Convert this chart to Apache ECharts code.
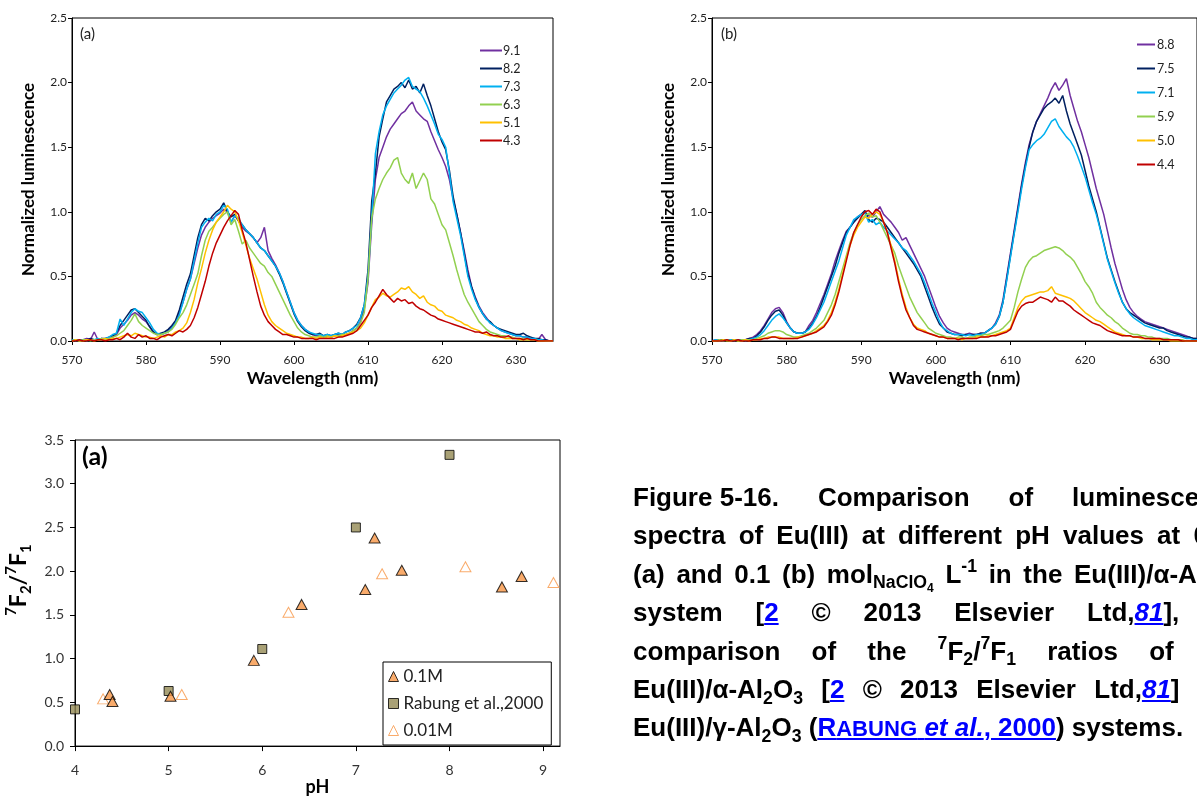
<!DOCTYPE html>
<html>
<head>
<meta charset="utf-8">
<script src="https://cdn.jsdelivr.net/npm/echarts@6/dist/echarts.min.js"></script>
<style>
html,body{margin:0;padding:0;width:1197px;height:797px;overflow:hidden;background:#fff;}
#chart{position:absolute;left:0;top:0;width:1197px;height:797px;}
#cap{position:absolute;left:633px;top:478px;width:611px;font-family:"Liberation Sans",Arial,sans-serif;font-weight:bold;font-size:26px;line-height:38.4px;color:#000;}
#cap .l{text-align:justify;text-align-last:justify;white-space:normal;}
#cap .last{text-align:left;text-align-last:left;}
#cap .nb{display:inline-block;}
#cap sub,#cap sup{font-size:68%;line-height:0;vertical-align:baseline;position:relative;}
#cap sub{top:0.32em;}
#cap sup{top:-0.62em;}
#cap a{color:#0000FF;text-decoration:underline;}
#cap .sc{font-size:85%;}
</style>
</head>
<body>
<div id="chart"></div>
<div id="cap">
<div class="l"><span class="nb">Figure 5-16.</span> Comparison of luminescence</div>
<div class="l">spectra of Eu(III) at different pH values at 0.01</div>
<div class="l">(a) and 0.1 (b) mol<sub>NaClO<sub>4</sub></sub> L<sup>-1</sup> in the Eu(III)/α-Al<sub>2</sub>O<sub>3</sub></div>
<div class="l">system [<a>2</a> © 2013 Elsevier Ltd,<a><i>81</i></a>], (c)</div>
<div class="l">comparison of the <sup>7</sup>F<sub>2</sub>/<sup>7</sup>F<sub>1</sub> ratios of the</div>
<div class="l">Eu(III)/α-Al<sub>2</sub>O<sub>3</sub> [<a>2</a> © 2013 Elsevier Ltd,<a><i>81</i></a>] and</div>
<div class="l last">Eu(III)/γ-Al<sub>2</sub>O<sub>3</sub> (<a>R<span class="sc">ABUNG</span> <i>et al.</i>, 2000</a>) systems.</div>
</div>
<script>
// ---------- DATA ----------
const wavelength = [
570,570.5,571,571.5,572,572.5,573,573.5,574,574.5,
575,575.5,576,576.5,577,577.5,578,578.5,579,579.5,
580,580.5,581,581.5,582,582.5,583,583.5,584,584.5,
585,585.5,586,586.5,587,587.5,588,588.5,589,589.5,
590,590.5,591,591.5,592,592.5,593,593.5,594,594.5,
595,595.5,596,596.5,597,597.5,598,598.5,599,599.5,
600,600.5,601,601.5,602,602.5,603,603.5,604,604.5,
605,605.5,606,606.5,607,607.5,608,608.5,609,609.5,
610,610.5,611,611.5,612,612.5,613,613.5,614,614.5,
615,615.5,616,616.5,617,617.5,618,618.5,619,619.5,
620,620.5,621,621.5,622,622.5,623,623.5,624,624.5,
625,625.5,626,626.5,627,627.5,628,628.5,629,629.5,
630,630.5,631,631.5,632,632.5,633,633.5,634,634.5,
635];

// Panel (a): pH labels and spectra
const phLabelsA = ['9.1','8.2','7.3','6.3','5.1','4.3'];
const specA_91 = [
0.00,0.01,0.00,0.01,0.02,0.01,0.07,0.01,0.02,0.01,
0.02,0.03,0.05,0.10,0.13,0.16,0.20,0.22,0.20,0.17,
0.15,0.11,0.07,0.05,0.05,0.06,0.08,0.11,0.15,0.22,
0.30,0.40,0.48,0.60,0.72,0.82,0.88,0.92,0.95,0.97,
0.99,1.02,1.00,0.92,0.97,0.93,0.88,0.85,0.83,0.80,
0.76,0.80,0.88,0.70,0.64,0.59,0.53,0.46,0.38,0.30,
0.22,0.16,0.12,0.09,0.07,0.05,0.04,0.04,0.03,0.04,
0.03,0.04,0.05,0.04,0.05,0.06,0.08,0.10,0.15,0.25,
0.45,0.90,1.25,1.42,1.50,1.58,1.64,1.68,1.72,1.76,
1.78,1.82,1.85,1.78,1.75,1.72,1.70,1.62,1.55,1.48,
1.42,1.35,1.25,1.10,0.98,0.84,0.70,0.55,0.42,0.34,
0.27,0.22,0.18,0.14,0.12,0.10,0.08,0.07,0.06,0.05,
0.04,0.04,0.03,0.03,0.02,0.02,0.01,0.05,0.01,0.00,
0.00];
const specA_82 = [
0.00,0.01,0.01,0.00,0.01,0.02,0.01,0.01,0.02,0.02,
0.03,0.04,0.06,0.12,0.16,0.20,0.24,0.25,0.22,0.19,
0.16,0.11,0.07,0.05,0.06,0.07,0.09,0.12,0.16,0.24,
0.34,0.44,0.52,0.66,0.80,0.90,0.95,0.93,0.97,1.00,
1.02,1.07,1.00,0.96,0.98,0.93,0.90,0.86,0.83,0.80,
0.76,0.72,0.70,0.66,0.62,0.58,0.52,0.45,0.37,0.29,
0.21,0.15,0.11,0.08,0.06,0.05,0.05,0.06,0.04,0.05,
0.04,0.05,0.06,0.05,0.07,0.08,0.10,0.13,0.18,0.28,
0.55,1.08,1.30,1.58,1.72,1.85,1.90,1.95,1.97,2.00,
1.96,2.02,1.95,1.97,1.92,1.99,1.90,1.82,1.72,1.62,
1.54,1.48,1.32,1.12,0.98,0.84,0.68,0.52,0.42,0.33,
0.26,0.21,0.17,0.15,0.12,0.10,0.09,0.08,0.07,0.06,
0.05,0.05,0.06,0.04,0.03,0.02,0.02,0.01,0.01,0.00,
0.00];
const specA_73 = [
0.01,0.00,0.01,0.01,0.00,0.01,0.01,0.02,0.01,0.02,
0.03,0.05,0.06,0.17,0.12,0.17,0.22,0.25,0.23,0.22,
0.18,0.14,0.09,0.06,0.05,0.06,0.07,0.10,0.14,0.20,
0.30,0.40,0.48,0.62,0.76,0.88,0.92,0.95,0.93,0.98,
1.00,1.05,1.02,0.92,0.97,0.95,0.90,0.86,0.83,0.80,
0.76,0.72,0.70,0.66,0.62,0.58,0.53,0.46,0.38,0.30,
0.22,0.16,0.12,0.09,0.07,0.06,0.05,0.05,0.04,0.05,
0.04,0.05,0.06,0.05,0.07,0.08,0.10,0.12,0.18,0.28,
0.50,0.95,1.45,1.62,1.75,1.82,1.87,1.92,1.95,1.98,
2.02,2.04,1.97,1.95,1.93,1.88,1.82,1.75,1.68,1.60,
1.56,1.50,1.30,1.08,0.95,0.82,0.66,0.50,0.40,0.32,
0.26,0.21,0.17,0.14,0.12,0.10,0.08,0.07,0.06,0.05,
0.04,0.04,0.03,0.03,0.02,0.02,0.01,0.01,0.00,0.00,
0.00];
const specA_63 = [
0.00,0.01,0.00,0.01,0.01,0.00,0.01,0.01,0.02,0.01,
0.02,0.03,0.04,0.06,0.08,0.12,0.16,0.21,0.15,0.12,
0.10,0.08,0.06,0.05,0.05,0.06,0.07,0.09,0.13,0.18,
0.22,0.28,0.36,0.44,0.52,0.66,0.78,0.85,0.88,0.92,
0.95,0.98,1.00,0.90,0.94,0.85,0.75,0.78,0.72,0.68,
0.64,0.60,0.58,0.53,0.50,0.44,0.38,0.32,0.26,0.20,
0.15,0.10,0.07,0.05,0.04,0.03,0.03,0.04,0.03,0.04,
0.03,0.04,0.04,0.05,0.05,0.06,0.08,0.10,0.14,0.22,
0.48,0.95,1.10,1.18,1.25,1.30,1.34,1.40,1.42,1.30,
1.25,1.22,1.30,1.18,1.24,1.30,1.25,1.10,1.06,0.98,
0.90,0.86,0.76,0.66,0.55,0.45,0.36,0.30,0.25,0.20,
0.15,0.12,0.09,0.07,0.06,0.05,0.04,0.04,0.03,0.03,
0.02,0.02,0.02,0.01,0.01,0.01,0.00,0.00,0.00,0.00,
0.00];
const specA_51 = [
0.00,0.01,0.00,0.00,0.01,0.01,0.00,0.01,0.01,0.02,
0.01,0.02,0.02,0.03,0.04,0.05,0.04,0.06,0.05,0.04,
0.03,0.03,0.02,0.03,0.04,0.03,0.05,0.05,0.07,0.08,
0.10,0.14,0.22,0.32,0.45,0.56,0.68,0.78,0.86,0.92,
0.96,1.00,1.05,1.02,1.00,0.93,0.84,0.74,0.64,0.56,
0.48,0.38,0.28,0.20,0.15,0.12,0.10,0.08,0.06,0.05,
0.04,0.03,0.03,0.02,0.02,0.03,0.02,0.03,0.02,0.03,
0.03,0.04,0.03,0.04,0.05,0.06,0.07,0.08,0.10,0.14,
0.20,0.26,0.32,0.34,0.37,0.35,0.34,0.36,0.38,0.41,
0.40,0.42,0.38,0.36,0.33,0.35,0.30,0.28,0.27,0.24,
0.23,0.20,0.19,0.18,0.16,0.15,0.13,0.12,0.10,0.09,
0.08,0.06,0.05,0.04,0.04,0.03,0.03,0.02,0.02,0.02,
0.02,0.01,0.01,0.01,0.01,0.01,0.00,0.00,0.00,0.00,
0.00];
const specA_43 = [
0.00,0.00,0.01,0.00,0.00,0.01,0.00,0.01,0.01,0.00,
0.01,0.01,0.02,0.01,0.03,0.06,0.03,0.02,0.05,0.03,
0.04,0.02,0.02,0.01,0.03,0.04,0.05,0.04,0.06,0.08,
0.07,0.09,0.12,0.18,0.26,0.36,0.46,0.58,0.68,0.76,
0.82,0.88,0.93,0.97,1.01,0.98,0.86,0.76,0.63,0.50,
0.38,0.27,0.20,0.15,0.12,0.09,0.07,0.05,0.05,0.04,
0.03,0.03,0.02,0.02,0.02,0.02,0.01,0.02,0.02,0.02,
0.02,0.02,0.03,0.03,0.04,0.05,0.06,0.08,0.12,0.16,
0.20,0.26,0.30,0.35,0.40,0.36,0.33,0.30,0.33,0.31,
0.32,0.29,0.30,0.27,0.25,0.24,0.22,0.20,0.19,0.17,
0.16,0.15,0.14,0.13,0.12,0.11,0.10,0.09,0.08,0.07,
0.07,0.06,0.07,0.05,0.04,0.04,0.03,0.03,0.04,0.02,
0.02,0.02,0.01,0.02,0.01,0.01,0.00,0.00,0.00,0.00,
0.00];

// Panel (b): pH labels and spectra
const phLabelsB = ['8.8','7.5','7.1','5.9','5.0','4.4'];
const specB_88 = [
0.00,0.01,0.00,0.01,0.01,0.00,0.01,0.01,0.00,0.01,
0.02,0.03,0.05,0.08,0.12,0.17,0.22,0.25,0.26,0.22,
0.15,0.10,0.07,0.06,0.06,0.07,0.12,0.16,0.22,0.29,
0.36,0.44,0.52,0.62,0.70,0.78,0.85,0.88,0.92,0.96,
0.98,0.99,0.97,0.96,1.00,1.04,0.98,0.95,0.92,0.88,
0.84,0.78,0.80,0.74,0.68,0.62,0.56,0.50,0.42,0.34,
0.26,0.19,0.14,0.10,0.08,0.07,0.06,0.05,0.05,0.06,
0.05,0.05,0.06,0.06,0.08,0.10,0.14,0.20,0.32,0.50,
0.68,0.86,1.04,1.22,1.38,1.52,1.62,1.70,1.76,1.82,
1.88,1.95,2.00,1.94,1.98,2.03,1.90,1.80,1.70,1.62,
1.52,1.42,1.30,1.18,1.08,0.98,0.85,0.72,0.60,0.50,
0.40,0.32,0.26,0.22,0.19,0.17,0.15,0.14,0.13,0.12,
0.11,0.10,0.09,0.08,0.07,0.06,0.05,0.04,0.03,0.02,
0.02];
const specB_75 = [
0.00,0.00,0.01,0.01,0.00,0.01,0.01,0.00,0.01,0.01,
0.02,0.02,0.04,0.07,0.11,0.16,0.20,0.23,0.24,0.20,
0.14,0.10,0.07,0.06,0.06,0.07,0.10,0.14,0.19,0.26,
0.34,0.42,0.50,0.58,0.68,0.76,0.84,0.88,0.92,0.95,
0.98,1.01,0.94,0.92,0.95,0.94,0.92,0.88,0.84,0.80,
0.76,0.72,0.68,0.64,0.60,0.55,0.50,0.42,0.34,0.26,
0.19,0.13,0.10,0.07,0.06,0.05,0.05,0.04,0.05,0.05,
0.05,0.05,0.06,0.06,0.08,0.10,0.13,0.19,0.30,0.48,
0.66,0.84,1.02,1.20,1.36,1.50,1.62,1.70,1.75,1.80,
1.83,1.85,1.88,1.84,1.90,1.78,1.68,1.60,1.52,1.44,
1.32,1.20,1.10,1.00,0.88,0.76,0.64,0.55,0.46,0.38,
0.30,0.25,0.22,0.20,0.18,0.16,0.14,0.13,0.12,0.11,
0.10,0.10,0.08,0.07,0.06,0.05,0.04,0.03,0.03,0.02,
0.02];
const specB_71 = [
0.00,0.01,0.00,0.00,0.01,0.01,0.00,0.01,0.01,0.00,
0.01,0.02,0.03,0.05,0.08,0.12,0.16,0.19,0.21,0.18,
0.14,0.10,0.07,0.06,0.06,0.07,0.09,0.13,0.18,0.24,
0.30,0.38,0.46,0.54,0.62,0.72,0.82,0.88,0.94,0.96,
0.98,0.99,0.92,0.94,0.90,0.92,0.88,0.85,0.82,0.79,
0.76,0.72,0.70,0.66,0.62,0.57,0.52,0.45,0.37,0.29,
0.22,0.15,0.10,0.08,0.06,0.05,0.05,0.05,0.04,0.05,
0.04,0.05,0.05,0.06,0.08,0.10,0.13,0.19,0.30,0.47,
0.65,0.83,1.00,1.18,1.34,1.48,1.52,1.55,1.57,1.60,
1.65,1.70,1.72,1.66,1.62,1.58,1.55,1.50,1.43,1.35,
1.27,1.17,1.07,0.98,0.87,0.75,0.63,0.54,0.45,0.37,
0.30,0.25,0.21,0.18,0.16,0.14,0.12,0.11,0.10,0.09,
0.08,0.07,0.06,0.05,0.04,0.04,0.03,0.02,0.02,0.01,
0.01];
const specB_59 = [
0.00,0.00,0.01,0.00,0.01,0.00,0.01,0.00,0.01,0.01,
0.01,0.01,0.02,0.03,0.04,0.06,0.07,0.08,0.08,0.07,
0.05,0.04,0.03,0.03,0.04,0.05,0.06,0.08,0.10,0.13,
0.16,0.22,0.28,0.36,0.46,0.56,0.66,0.76,0.84,0.90,
0.94,0.97,0.99,0.96,0.97,0.92,0.86,0.80,0.74,0.68,
0.58,0.50,0.42,0.34,0.28,0.22,0.18,0.14,0.10,0.08,
0.06,0.05,0.04,0.03,0.03,0.02,0.03,0.03,0.02,0.03,
0.03,0.04,0.04,0.05,0.05,0.06,0.07,0.08,0.10,0.13,
0.16,0.26,0.38,0.48,0.57,0.62,0.65,0.66,0.68,0.70,
0.71,0.72,0.73,0.72,0.70,0.67,0.65,0.62,0.57,0.52,
0.46,0.42,0.37,0.30,0.26,0.23,0.20,0.18,0.15,0.13,
0.10,0.08,0.06,0.05,0.05,0.04,0.04,0.03,0.03,0.02,
0.02,0.02,0.02,0.01,0.01,0.01,0.01,0.00,0.00,0.00,
0.00];
const specB_50 = [
0.00,0.00,0.00,0.01,0.00,0.00,0.01,0.00,0.00,0.01,
0.00,0.01,0.01,0.02,0.02,0.03,0.03,0.03,0.03,0.02,
0.02,0.02,0.02,0.03,0.03,0.04,0.05,0.06,0.08,0.10,
0.12,0.16,0.22,0.30,0.40,0.52,0.64,0.74,0.82,0.88,
0.92,0.96,0.95,0.98,1.00,0.98,0.92,0.84,0.74,0.62,
0.48,0.36,0.26,0.18,0.13,0.10,0.09,0.08,0.06,0.05,
0.04,0.03,0.03,0.02,0.02,0.02,0.02,0.01,0.02,0.02,
0.02,0.03,0.03,0.03,0.04,0.04,0.05,0.06,0.07,0.08,
0.10,0.18,0.26,0.31,0.34,0.35,0.36,0.37,0.38,0.38,
0.39,0.42,0.37,0.36,0.35,0.34,0.33,0.31,0.28,0.25,
0.22,0.20,0.18,0.16,0.15,0.13,0.11,0.09,0.07,0.06,
0.05,0.04,0.04,0.03,0.03,0.02,0.02,0.02,0.01,0.01,
0.01,0.01,0.01,0.00,0.00,0.00,0.00,0.00,0.00,0.00,
0.00];
const specB_44 = [
0.00,0.00,0.00,0.00,0.01,0.00,0.00,0.01,0.00,0.00,
0.00,0.01,0.01,0.01,0.02,0.02,0.03,0.03,0.02,0.02,
0.02,0.02,0.02,0.02,0.03,0.04,0.05,0.06,0.07,0.09,
0.11,0.15,0.20,0.28,0.38,0.50,0.62,0.74,0.84,0.90,
0.96,1.00,1.01,0.98,1.02,1.00,0.92,0.84,0.72,0.60,
0.46,0.34,0.24,0.18,0.12,0.09,0.08,0.07,0.06,0.05,
0.04,0.03,0.03,0.02,0.02,0.02,0.01,0.02,0.02,0.02,
0.02,0.02,0.03,0.03,0.03,0.04,0.04,0.05,0.06,0.07,
0.09,0.16,0.23,0.27,0.29,0.30,0.30,0.32,0.34,0.33,
0.32,0.30,0.34,0.31,0.31,0.29,0.27,0.24,0.22,0.20,
0.18,0.16,0.14,0.13,0.12,0.10,0.08,0.07,0.06,0.05,
0.04,0.04,0.04,0.03,0.03,0.03,0.02,0.02,0.02,0.02,
0.02,0.01,0.01,0.01,0.01,0.01,0.00,0.00,0.00,0.00,
0.00];

// Panel (c): 7F2/7F1 ratio vs pH
const ph_01M   = [4.37,4.40,5.02,5.91,6.42,7.10,7.20,7.49,8.56,8.77];
const ratio_01M= [0.59,0.51,0.57,0.98,1.62,1.79,2.38,2.01,1.82,1.94];
const ph_Rab   = [4.00,5.00,6.00,7.00,8.00];
const ratio_Rab= [0.42,0.63,1.11,2.50,3.33];
const ph_001M  = [4.30,5.14,6.28,7.28,8.17,9.11];
const ratio_001M=[0.54,0.59,1.53,1.97,2.05,1.87];

// ---------- CHART ----------
const colors = ['#7030A0','#002060','#00B0F0','#92D050','#FFC000','#C00000'];
const specSetA = [specA_91,specA_82,specA_73,specA_63,specA_51,specA_43];
const specSetB = [specB_88,specB_75,specB_71,specB_59,specB_50,specB_44];
const pairs = (xs, ys) => xs.map((x,i)=>[x, ys[i]]);

const FF = 'Lato';
function specX(gi){
  return {gridIndex:gi,type:'value',min:570,max:635,interval:10,
    axisLine:{lineStyle:{color:'#000',width:1}},
    axisTick:{show:true,length:4,lineStyle:{color:'#000'}},
    axisLabel:{fontSize:12,color:'#222',margin:13,showMaxLabel:false,fontFamily:FF},
    splitLine:{show:false},
    name:'Wavelength (nm)',nameLocation:'middle',nameGap:28,
    nameTextStyle:{fontWeight:'bold',fontSize:17.5,color:'#000',fontFamily:FF}};
}
function specY(gi){
  return {gridIndex:gi,type:'value',min:0,max:2.5,interval:0.5,
    axisLine:{show:true,lineStyle:{color:'#000',width:1}},
    axisTick:{show:true,length:4,lineStyle:{color:'#000'}},
    axisLabel:{fontSize:12,color:'#222',margin:5,fontFamily:FF,formatter:v=>v.toFixed(1)},
    splitLine:{show:false},
    name:'Normalized luminescence',nameLocation:'middle',nameGap:35,
    nameTextStyle:{fontWeight:'bold',fontSize:17,color:'#000',fontFamily:FF}};
}
const series = [];
specSetA.forEach((s,i)=>series.push({name:phLabelsA[i],type:'line',xAxisIndex:0,yAxisIndex:0,
  data:pairs(wavelength,s),showSymbol:false,symbol:'none',lineStyle:{width:1.5,color:colors[i]},itemStyle:{color:colors[i]},z:2+i}));
specSetB.forEach((s,i)=>series.push({name:phLabelsB[i],type:'line',xAxisIndex:1,yAxisIndex:1,
  data:pairs(wavelength,s),showSymbol:false,symbol:'none',lineStyle:{width:1.5,color:colors[i]},itemStyle:{color:colors[i]},z:2+i}));
series.push({name:'0.1M',type:'scatter',xAxisIndex:2,yAxisIndex:2,clip:false,symbol:'triangle',symbolSize:[11,10],
  data:pairs(ph_01M,ratio_01M),itemStyle:{color:'#F79646',borderColor:'#000',borderWidth:1},z:5});
series.push({name:'Rabung et al.,2000',type:'scatter',xAxisIndex:2,yAxisIndex:2,clip:false,symbol:'rect',symbolSize:9,
  data:pairs(ph_Rab,ratio_Rab),itemStyle:{color:'#948A54',borderColor:'#000',borderWidth:1},z:4});
series.push({name:'0.01M',type:'scatter',xAxisIndex:2,yAxisIndex:2,clip:false,symbol:'triangle',symbolSize:[11,10],
  data:pairs(ph_001M,ratio_001M),itemStyle:{color:'rgba(255,255,255,0)',borderColor:'#F79646',borderWidth:1},z:3});

const option = {
  animation:false,
  textStyle:{fontFamily:FF},
  grid:[
    {left:72,top:18,width:481,height:323,show:true,borderColor:'#000',borderWidth:1,backgroundColor:'transparent'},
    {left:712,top:18,width:493,height:323,show:true,borderColor:'#000',borderWidth:1,backgroundColor:'transparent'},
    {left:75,top:440,width:485,height:308,show:true,borderColor:'#000',borderWidth:1,backgroundColor:'transparent'}
  ],
  xAxis:[specX(0),specX(1),
    {gridIndex:2,type:'value',min:4,max:9.18,interval:1,
     axisLine:{lineStyle:{color:'#000'}},axisTick:{show:true,length:5,lineStyle:{color:'#000'}},
     axisLabel:{fontSize:14,color:'#333',margin:17,showMaxLabel:false,fontFamily:FF},
     splitLine:{show:false},name:'pH',nameLocation:'middle',nameGap:30,
     nameTextStyle:{fontWeight:'bold',fontSize:18,color:'#000',fontFamily:FF}}],
  yAxis:[specY(0),specY(1),
    {gridIndex:2,type:'value',min:0,max:3.5,interval:0.5,
     axisLine:{show:true,lineStyle:{color:'#000'}},axisTick:{show:true,length:5,lineStyle:{color:'#000'}},
     axisLabel:{fontSize:14,color:'#333',margin:11,fontFamily:FF,formatter:v=>v.toFixed(1)},
     splitLine:{show:false},
     name:'{sp|7}{b|F}{sb|2}{b|/}{sp|7}{b|F}{sb|1}',nameLocation:'middle',nameGap:41,
     nameTextStyle:{color:'#000',padding:[0,0,0,26],rich:{
       b:{fontSize:23,fontWeight:'bold',fontFamily:FF,lineHeight:30,verticalAlign:'middle'},
       sp:{fontSize:15,fontWeight:'bold',fontFamily:FF,lineHeight:30,verticalAlign:'top'},
       sb:{fontSize:15,fontWeight:'bold',fontFamily:FF,lineHeight:30,verticalAlign:'bottom'}}}}],
  legend:[
    {data:phLabelsA,orient:'vertical',left:480,top:44,padding:0,itemGap:5,itemWidth:22,itemHeight:2,icon:'rect',
     selectedMode:false,textStyle:{fontSize:12.5,color:'#222',fontFamily:FF,padding:[0,0,0,-4]}},
    {data:phLabelsB,orient:'vertical',left:1137,top:38,padding:0,itemGap:11,itemWidth:18,itemHeight:2,icon:'rect',
     selectedMode:false,textStyle:{fontSize:12.5,color:'#222',fontFamily:FF,padding:[0,0,0,-3]}},
    {data:[
       {name:'0.1M',icon:'triangle',itemStyle:{color:'#F79646',borderColor:'#000',borderWidth:1}},
       {name:'Rabung et al.,2000',icon:'rect',itemStyle:{color:'#948A54',borderColor:'#000',borderWidth:1}},
       {name:'0.01M',icon:'triangle',itemStyle:{color:'rgba(255,255,255,0)',borderColor:'#F79646',borderWidth:1}}],
     orient:'vertical',left:383,top:662,padding:[6,8,6,5],itemGap:10,itemWidth:10,itemHeight:10,
     borderColor:'#000',borderWidth:1,backgroundColor:'#fff',selectedMode:false,
     textStyle:{fontSize:17,color:'#222',fontFamily:FF}}
  ],
  graphic:[
    {type:'text',left:80,top:27,style:{text:'(a)',fontSize:15,fill:'#222',fontFamily:FF}},
    {type:'text',left:721,top:27,style:{text:'(b)',fontSize:15,fill:'#222',fontFamily:FF}},
    {type:'text',left:82,top:444,style:{text:'(a)',fontSize:25,fontWeight:'bold',fill:'#000',fontFamily:FF}}
  ],
  series:series
};
const chart = echarts.init(document.getElementById('chart'),null,{renderer:'canvas'});
chart.setOption(option);
</script>
</body>
</html>
